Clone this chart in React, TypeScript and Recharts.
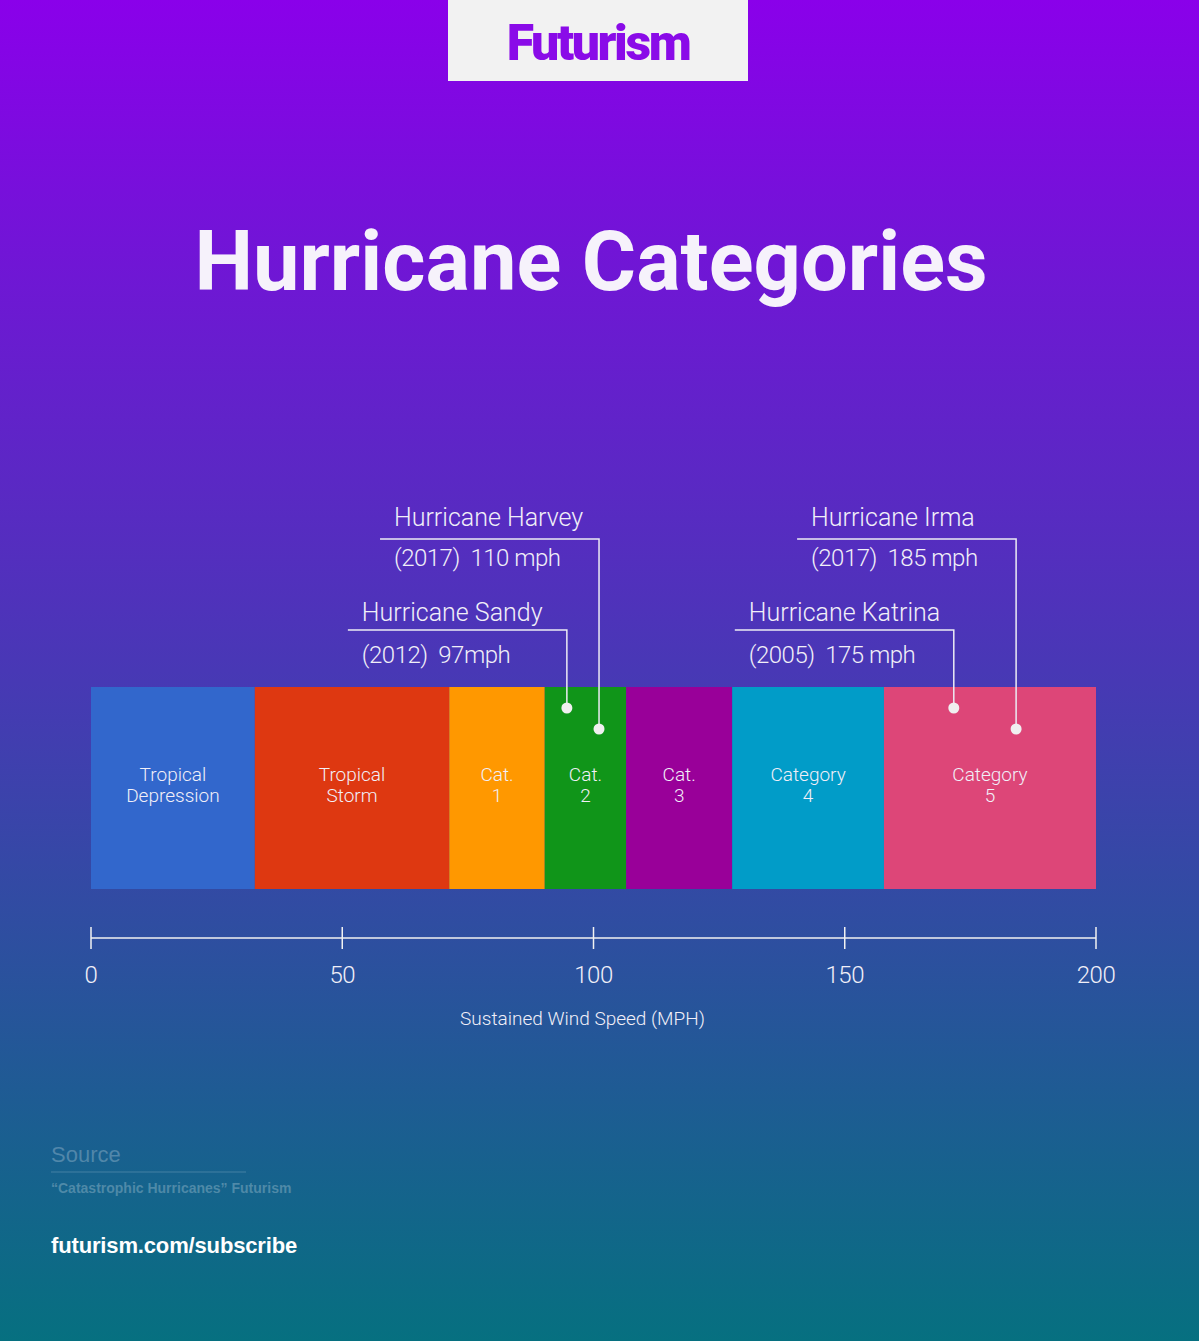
import React from 'react';
import { ComposedChart, Bar, XAxis, YAxis, ReferenceDot } from 'recharts';

// wind-speed bands along the strip (upper edge of each, mph)
const bandLines = [
  ['Tropical', 'Depression'],
  ['Tropical', 'Storm'],
  ['Cat.', '1'],
  ['Cat.', '2'],
  ['Cat.', '3'],
  ['Category', '4'],
  ['Category', '5'],
];
const bandUpper = [32.6, 71.3, 90.3, 106.5, 127.6, 157.8, 200];
const bandColors = ['#3267cc', '#de3811', '#ff9800', '#109519', '#990099', '#019cc8', '#dd4678'];

const axisTicks = [0, 50, 100, 150, 200];

// storms pinned on the strip
const stormNames = ['Hurricane Sandy', 'Hurricane Harvey', 'Hurricane Katrina', 'Hurricane Irma'];
const stormYears = ['2012', '2017', '2005', '2017'];
const stormSpeeds = ['97mph', '110 mph', '175 mph', '185 mph'];
const stormMarks = [94.7, 101.1, 171.7, 184.1];

const CATEGORY = 'wind';
const row: Record<string, any> = { name: CATEGORY };
bandUpper.forEach((u, i) => {
  row[`b${i}`] = u - (i > 0 ? bandUpper[i - 1] : 0);
});

const W = 1199;
const H = 1341;
const TEXT = '#f1eff8';
const FONT = 'Roboto, "Noto Sans", sans-serif';

// low / high callout rows
const calloutTier = [0, 1, 0, 1];
const tierGeom = [
  { dot: -80, line: -158, name: -167, sub: -125 },
  { dot: -59, line: -249, name: -262, sub: -222 },
];

const BandShape = (props: any) => {
  const { x, y, width, height, fill, lines } = props;
  const cx = x + width / 2;
  const cy = y + height / 2;
  return (
    <g>
      <rect x={x} y={y} width={width} height={height} fill={fill} />
      <text x={cx} y={cy - 7} textAnchor="middle" fill={TEXT} fontSize={19} fontWeight={300} fontFamily={FONT}>
        {lines[0]}
      </text>
      <text x={cx} y={cy + 14} textAnchor="middle" fill={TEXT} fontSize={19} fontWeight={300} fontFamily={FONT}>
        {lines[1]}
      </text>
    </g>
  );
};

const Callout = (props: any) => {
  const { cx, cy, i } = props;
  const g = tierGeom[calloutTier[i]];
  const lineY = cy + g.line;
  return (
    <g>
      <polyline
        points={`${cx - 219},${lineY} ${cx},${lineY} ${cx},${cy + g.dot}`}
        fill="none"
        stroke="#ecebf4"
        strokeWidth={1.5}
      />
      <circle cx={cx} cy={cy + g.dot} r={5.5} fill="#f0f0f0" />
      <text x={cx - 205} y={cy + g.name} fill={TEXT} fontSize={25} fontWeight={300} fontFamily={FONT}>
        {stormNames[i]}
      </text>
      <text
        x={cx - 205}
        y={cy + g.sub}
        fill={TEXT}
        fontSize={24}
        fontWeight={300}
        letterSpacing={-0.5}
        fontFamily={FONT}
        style={{ whiteSpace: 'pre' }}
      >
        {`(${stormYears[i]})  ${stormSpeeds[i]}`}
      </text>
    </g>
  );
};

const AxisTick = (props: any) => {
  const { x, y, payload } = props;
  return (
    <g>
      <line x1={x} x2={x} y1={y - 11} y2={y + 11} stroke="#f2f2f2" strokeWidth={1.5} />
      <text
        x={x}
        y={y + 45}
        textAnchor="middle"
        fill={TEXT}
        fontSize={24}
        fontWeight={300}
        letterSpacing={-0.5}
        fontFamily={FONT}
      >
        {payload.value}
      </text>
    </g>
  );
};

const AxisTitle = (props: any) => {
  const vb = props.viewBox || {};
  return (
    <text
      x={vb.x + vb.width / 2 - 11}
      y={vb.y + 87}
      textAnchor="middle"
      fill={TEXT}
      fontSize={19}
      fontWeight={300}
      fontFamily={FONT}
    >
      Sustained Wind Speed (MPH)
    </text>
  );
};

export default function App() {
  return (
    <div
      style={{
        position: 'absolute',
        top: 0,
        left: 0,
        width: W,
        height: H,
        background: 'linear-gradient(180deg, #8a00ea 0%, #067080 100%)',
        overflow: 'hidden',
      }}
    >
      {/* page furniture: logo, title, footer */}
      <svg width={W} height={H} style={{ position: 'absolute', top: 0, left: 0 }}>
        <rect x={448} y={0} width={300} height={81} fill="#f2f2f2" />
        <text
          x={598}
          y={60}
          textAnchor="middle"
          fill="#8a0be8"
          fontSize={50}
          fontWeight={900}
          letterSpacing={-2.4}
          fontFamily={FONT}
        >
          Futurism
        </text>
        <text x={591} y={290} textAnchor="middle" fill="#f6f2fb" fontSize={83} fontWeight={700} fontFamily={FONT}>
          Hurricane Categories
        </text>
        <text x={51} y={1162} fill="rgba(255,255,255,0.25)" fontSize={22} fontFamily='"Liberation Sans", Arial, sans-serif'>
          Source
        </text>
        <line x1={51} x2={246} y1={1172} y2={1172} stroke="rgba(255,255,255,0.2)" strokeWidth={1} />
        <text
          x={51}
          y={1193}
          fill="rgba(255,255,255,0.25)"
          fontSize={14}
          fontWeight={700}
          fontFamily='"Liberation Sans", Arial, sans-serif'
        >
          “Catastrophic Hurricanes” Futurism
        </text>
        <text
          x={51}
          y={1253}
          fill="#ffffff"
          fontSize={22}
          fontWeight={700}
          letterSpacing={-0.15}
          fontFamily='"Liberation Sans", Arial, sans-serif'
        >
          futurism.com/subscribe
        </text>
      </svg>

      <div style={{ position: 'absolute', top: 0, left: 0 }}>
        <ComposedChart
          width={W}
          height={H}
          layout="vertical"
          data={[row]}
          margin={{ top: 687, right: 103, bottom: 303, left: 91 }}
          barCategoryGap={0}
        >
          <XAxis
            type="number"
            domain={[0, 200]}
            ticks={axisTicks}
            interval={0}
            allowDataOverflow
            height={100}
            axisLine={{ stroke: '#f2f2f2', strokeWidth: 1.5 }}
            tickLine={false}
            tickSize={0}
            tickMargin={0}
            tick={<AxisTick />}
            label={(p: any) => <AxisTitle {...p} />}
          />
          <YAxis type="category" dataKey="name" hide width={0} padding={{ top: 0, bottom: 49 }} />
          {bandUpper.map((_, i) => (
            <Bar
              key={`b${i}`}
              dataKey={`b${i}`}
              stackId="wind"
              fill={bandColors[i]}
              isAnimationActive={false}
              shape={(p: any) => <BandShape {...p} lines={bandLines[i]} />}
            />
          ))}
          {stormMarks.map((m, i) => (
            <ReferenceDot
              key={stormNames[i]}
              x={m}
              y={CATEGORY}
              r={5.5}
              ifOverflow="visible"
              shape={(p: any) => <Callout {...p} i={i} />}
            />
          ))}
        </ComposedChart>
      </div>
    </div>
  );
}
